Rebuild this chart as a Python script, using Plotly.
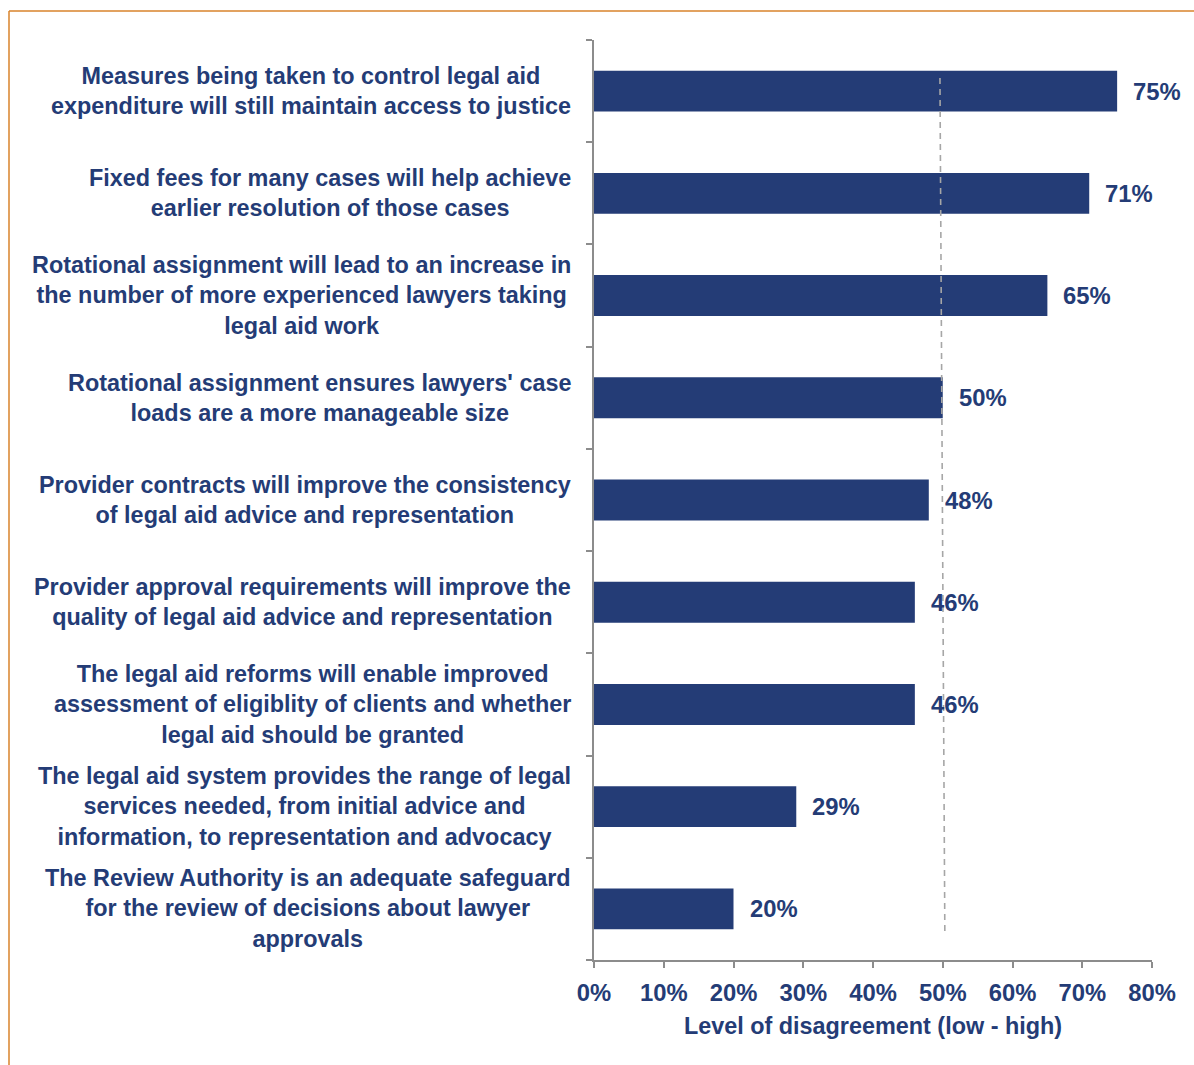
import plotly.graph_objects as go

# Survey statements and share of respondents disagreeing (%)
statements = [
    "Measures being taken to control legal aid<br>expenditure will still maintain access to justice",
    "Fixed fees for many cases will help achieve<br>earlier resolution of those cases",
    "Rotational assignment will lead to an increase in<br>the number of more experienced lawyers taking<br>legal aid work",
    "Rotational assignment ensures lawyers' case<br>loads are a more manageable size",
    "Provider contracts will improve the consistency<br>of legal aid advice and representation",
    "Provider approval requirements will improve the<br>quality of legal aid advice and representation",
    "The legal aid reforms will enable improved<br>assessment of eligiblity of clients and whether<br>legal aid should be granted",
    "The legal aid system provides the range of legal<br>services needed, from initial advice and<br>information, to representation and advocacy",
    "The Review Authority is an adequate safeguard<br>for the review of decisions about lawyer<br>approvals",
]
disagreement = [75, 71, 65, 50, 48, 46, 46, 29, 20]
x_ticks = [0, 10, 20, 30, 40, 50, 60, 70, 80]
x_tick_labels = [f"{t}%" for t in x_ticks]

NAVY = "#243C76"
GREY = "#8C8C8C"
FONT = "Liberation Sans"

W, H = 1194, 1065
ML, MR, MT, MB = 594, 42, 40, 105
plot_w = W - ML - MR

cats = list(range(len(statements)))

fig = go.Figure(
    go.Bar(
        x=disagreement,
        y=cats,
        orientation="h",
        width=0.4,
        marker=dict(color=NAVY, line=dict(width=0)),
        hoverinfo="skip",
    )
)

# value labels to the right of each bar
for i, v in enumerate(disagreement):
    fig.add_annotation(
        x=v, y=i, xref="x", yref="y",
        text=f"{v}%", showarrow=False,
        xanchor="left", xshift=14,
        font=dict(family=FONT, size=23.8, color=NAVY, weight="bold"),
    )

# statement labels, centred within a right-aligned block
for i, s in enumerate(statements):
    fig.add_annotation(
        x=0, y=i, xref="paper", yref="y",
        text=s, showarrow=False,
        xanchor="right", align="center", xshift=-21,
        font=dict(family=FONT, size=23.4, color=NAVY, weight="bold"),
    )

def px_to_paper_x(px):
    return (px - ML) / plot_w

def py_to_paper_y(py):
    return (H - MB - py) / (H - MT - MB)

# 50% reference line
fig.add_shape(
    type="line", xref="x", yref="paper",
    x0=49.6, x1=50.3, y0=py_to_paper_y(78), y1=py_to_paper_y(933),
    line=dict(color="#A6A6A6", width=1.6, dash="6px,5px"),
    layer="above",
)

# outer chart frame
fig.add_shape(
    type="line", xref="paper", yref="paper",
    x0=px_to_paper_x(9), x1=px_to_paper_x(W + 5),
    y0=py_to_paper_y(11), y1=py_to_paper_y(11),
    line=dict(color="#D9832B", width=1.5),
)
fig.add_shape(
    type="line", xref="paper", yref="paper",
    x0=px_to_paper_x(9), x1=px_to_paper_x(9),
    y0=py_to_paper_y(11), y1=py_to_paper_y(H + 5),
    line=dict(color="#D9832B", width=1.5),
)

fig.update_layout(
    width=W, height=H,
    margin=dict(l=ML, r=MR, t=MT, b=MB, pad=0),
    paper_bgcolor="white", plot_bgcolor="white",
    showlegend=False,
    bargap=0.6,
    xaxis=dict(
        range=[0, 80],
        tickvals=x_ticks, ticktext=x_tick_labels,
        showgrid=False, zeroline=False,
        showline=True, linecolor=GREY, linewidth=2,
        ticks="outside", ticklen=6, tickcolor=GREY, tickwidth=1.5,
        ticklabelstandoff=4,
        tickfont=dict(family=FONT, size=23.8, color=NAVY, weight="bold"),
        title=dict(
            text="Level of disagreement (low - high)",
            font=dict(family=FONT, size=23.4, color=NAVY, weight="bold"),
            standoff=13,
        ),
        fixedrange=True,
    ),
    yaxis=dict(
        type="linear",
        range=[len(statements) - 0.5, -0.5],
        tickvals=[k - 0.5 for k in range(len(statements) + 1)],
        showticklabels=False,
        showgrid=False, zeroline=False,
        showline=True, linecolor=GREY, linewidth=2,
        ticks="outside", ticklen=6, tickcolor=GREY, tickwidth=1.5,
        fixedrange=True,
    ),
)

fig.write_html("out.html", config={"displayModeBar": False})
